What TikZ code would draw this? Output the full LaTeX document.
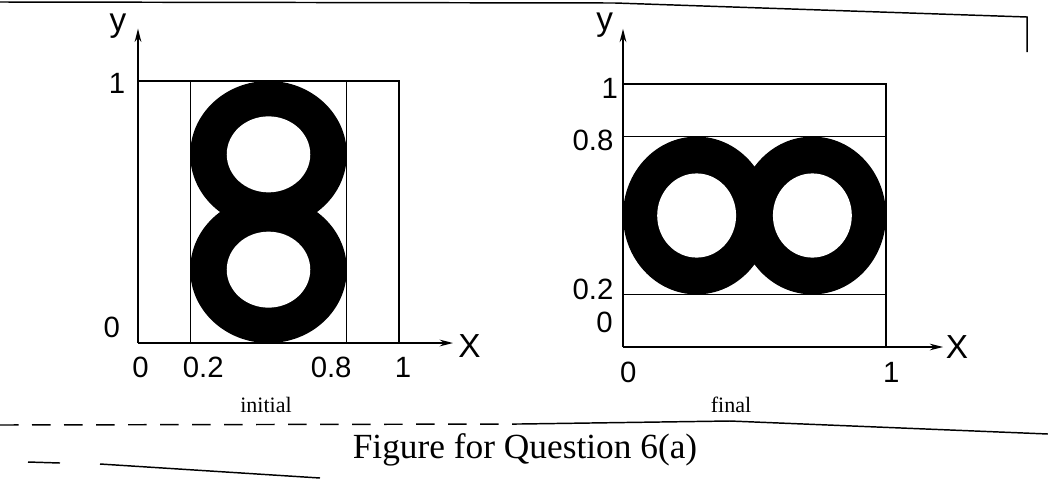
\documentclass[tikz,border=0pt]{standalone}
\usepackage{fontspec}
\setmainfont{Liberation Serif}
\setsansfont{Liberation Sans}
\usetikzlibrary{arrows.meta}
\tikzset{
  every picture/.style={line width=1pt},
  axis/.style={-{Stealth[length=10pt, width=5pt]}, line width=1.4pt},
  frame/.style={line width=1pt},
  ring/.style={fill=black},
  hole/.style={fill=white},
  tick/.style={font=\sffamily\fontsize{22}{26}\selectfont, inner sep=0pt},
  axlabel/.style={font=\sffamily\fontsize{25}{29}\selectfont, inner sep=0pt},
  sublabel/.style={font=\fontsize{16.5}{19}\selectfont, inner sep=0pt},
  title/.style={font=\fontsize{26.5}{30}\selectfont, inner sep=0pt},
  scan/.style={line width=1.1pt},
}

\begin{document}
\begin{tikzpicture}[x=0.75pt, y=-0.75pt]
  \useasboundingbox (0,0) rectangle (1048,479);
  % page rules of the scan
  \draw[scan] (0,2) -- (615,3) -- (1027,17) -- (1027,52);
  \draw[scan, dash pattern=on 14pt off 10pt] (0,425) -- (520,424);
  \draw[scan] (520,424) -- (730,421) -- (1048,434);
  \draw[scan] (28,462) -- (60,463);
  \draw[scan] (100,464) -- (320,478);
  % initial shape
  \begin{scope}[shift={(138,343)}, x=195.75pt, y=196.5pt]
    \coordinate (oa) at (0,0);
    \coordinate (xa) at (1.207,0);
    \coordinate (ya) at (0,1.2);
    \draw[frame] (0,1) -- (1,1) -- (1,0);
    \foreach \u in {0.2,0.8} \draw[frame] (\u,0) -- (\u,1);
    \fill[ring] (0.5,0.72) ellipse [x radius=0.3, y radius=0.28]
                (0.5,0.28) ellipse [x radius=0.3, y radius=0.28];
    \fill[hole] (0.5,0.72) ellipse [x radius=0.16, y radius=0.145]
                (0.5,0.28) ellipse [x radius=0.16, y radius=0.145];
    \draw[axis] (oa) -- (xa);
    \draw[axis] (oa) -- (ya);
    \node[axlabel] (lya) at (-0.077,1.21) {y};
    \node[axlabel] (lxa) at (1.27,-0.01) {X};
    \node[tick] (ya1) at (-0.08,0.99) {1};
    \node[tick] (ya0) at (-0.10,0.06) {0};
    \node[tick] (xa0) at (0.01,-0.095) {0};
    \node[tick] (xa2) at (0.25,-0.095) {0.2};
    \node[tick] (xa8) at (0.74,-0.095) {0.8};
    \node[tick] (xa1) at (1.015,-0.095) {1};
  \end{scope}
  % final shape
  \begin{scope}[shift={(623,347)}, x=197.25pt, y=197.25pt]
    \coordinate (ob) at (0,0);
    \coordinate (xb) at (1.217,0);
    \coordinate (yb) at (0,1.21);
    \draw[frame] (0,1) -- (1,1) -- (1,0);
    \foreach \v in {0.2,0.8} \draw[frame] (0,\v) -- (1,\v);
    \fill[ring] (0.28,0.5) ellipse [x radius=0.28, y radius=0.3]
                (0.72,0.5) ellipse [x radius=0.28, y radius=0.3];
    \fill[hole] (0.28,0.5) ellipse [x radius=0.15, y radius=0.16]
                (0.72,0.5) ellipse [x radius=0.15, y radius=0.16];
    \draw[axis] (ob) -- (xb);
    \draw[axis] (ob) -- (yb);
    \node[axlabel] (lyb) at (-0.07,1.225) {y};
    \node[axlabel] (lxb) at (1.27,0) {X};
    \node[tick] (yb1) at (-0.05,0.985) {1};
    \node[tick] (yb8) at (-0.114,0.787) {0.8};
    \node[tick] (yb2) at (-0.114,0.218) {0.2};
    \node[tick] (yb0) at (-0.07,0.095) {0};
    \node[tick] (xb0) at (0.02,-0.095) {0};
    \node[tick] (xb1) at (1.02,-0.095) {1};
  \end{scope}
  \node[sublabel] (init) at (266,405) {initial};
  \node[sublabel] (fin) at (731,405) {final};
  \node[title] (fig) at (525,450) {Figure for Question 6(a)};
\end{tikzpicture}
\end{document}
